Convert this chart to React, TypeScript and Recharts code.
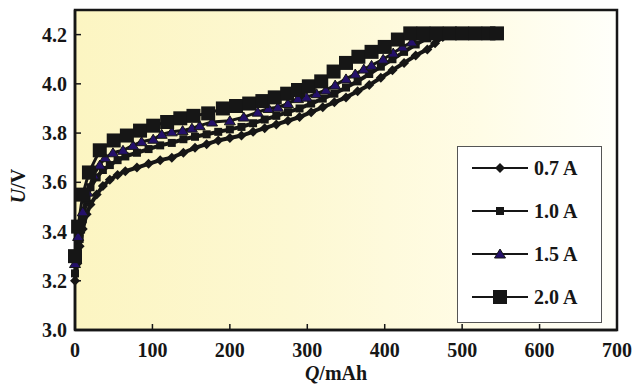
import React from 'react';
import { LineChart, Line, XAxis, YAxis, ReferenceArea } from 'recharts';

// charge curves, [Q (mAh), U (V)]
const curve07: [number, number][] = [
  [0, 3.2], [3, 3.27], [6, 3.34], [10, 3.41], [15, 3.47], [20, 3.51], [28, 3.55], [36, 3.585],
  [45, 3.61], [55, 3.63], [65, 3.645], [80, 3.66], [95, 3.675], [110, 3.69], [125, 3.7],
  [140, 3.72], [155, 3.74], [170, 3.755], [185, 3.77], [200, 3.78], [215, 3.79], [230, 3.805],
  [245, 3.82], [260, 3.835], [275, 3.85], [290, 3.865], [305, 3.885], [320, 3.905], [335, 3.925],
  [350, 3.945], [365, 3.97], [380, 3.995], [395, 4.025], [410, 4.055], [425, 4.085], [440, 4.115],
  [455, 4.14], [465, 4.165], [475, 4.19], [482, 4.2], [495, 4.2], [510, 4.2], [525, 4.2], [540, 4.2],
];

const curve10: [number, number][] = [
  [0, 3.23], [3, 3.3], [6, 3.37], [10, 3.45], [15, 3.53], [20, 3.58], [28, 3.62], [36, 3.65],
  [45, 3.67], [55, 3.69], [65, 3.705], [80, 3.72], [95, 3.735], [110, 3.75], [125, 3.76],
  [140, 3.775], [155, 3.785], [170, 3.795], [185, 3.805], [200, 3.815], [215, 3.825], [230, 3.84],
  [245, 3.855], [260, 3.87], [275, 3.885], [290, 3.9], [305, 3.92], [320, 3.94], [335, 3.96],
  [350, 3.985], [365, 4.01], [380, 4.04], [395, 4.07], [410, 4.1], [425, 4.13], [440, 4.16],
  [455, 4.185], [465, 4.2], [480, 4.2], [495, 4.2], [510, 4.2], [525, 4.2], [540, 4.2],
];

const curve15: [number, number][] = [
  [0, 3.27], [4, 3.38], [10, 3.48], [16, 3.56], [24, 3.63], [32, 3.67], [39, 3.7], [49, 3.72],
  [62, 3.73], [75, 3.75], [86, 3.765], [101, 3.775], [112, 3.795], [125, 3.805], [139, 3.81],
  [151, 3.82], [161, 3.83], [177, 3.845], [200, 3.85], [218, 3.865], [236, 3.885], [250, 3.9],
  [262, 3.905], [275, 3.92], [288, 3.94], [299, 3.946], [312, 3.96], [324, 3.975], [336, 3.995],
  [350, 4.02], [362, 4.04], [373, 4.06], [383, 4.075], [398, 4.1], [411, 4.125], [423, 4.15],
  [435, 4.17], [447, 4.2], [462, 4.2], [477, 4.2], [492, 4.2], [507, 4.2], [522, 4.2], [537, 4.2],
];

const curve20: [number, number][] = [
  [0, 3.3], [4, 3.42], [10, 3.55], [18, 3.64], [32, 3.73], [50, 3.77], [67, 3.79], [84, 3.81],
  [101, 3.83], [119, 3.845], [136, 3.86], [153, 3.87], [172, 3.88], [191, 3.9], [208, 3.91],
  [225, 3.92], [242, 3.93], [258, 3.945], [274, 3.96], [288, 3.975], [302, 3.99], [318, 4.01],
  [334, 4.05], [350, 4.085], [366, 4.11], [383, 4.13], [400, 4.15], [417, 4.18], [433, 4.205],
  [450, 4.205], [467, 4.205], [484, 4.205], [500, 4.205], [517, 4.205], [534, 4.205], [545, 4.205],
];

const xTicks = [0, 100, 200, 300, 400, 500, 600, 700];
const yTicks = [3.0, 3.2, 3.4, 3.6, 3.8, 4.0, 4.2];
const seriesNames = ['0.7 A', '1.0 A', '1.5 A', '2.0 A'];

const toRows = (c: [number, number][]) => c.map(([q, u]) => ({ q, u }));

const FONT = '"Liberation Serif", "Times New Roman", serif';
const INK = '#161616';

type Shape = 'diamond' | 'small' | 'triangle' | 'big';

const Marker = ({ cx, cy, shape }: { cx: number; cy: number; shape: Shape }) => {
  if (cx == null || cy == null) return null;
  if (shape === 'diamond') {
    return <polygon points={`${cx},${cy - 5} ${cx + 5},${cy} ${cx},${cy + 5} ${cx - 5},${cy}`} fill={INK} />;
  }
  if (shape === 'small') {
    return <rect x={cx - 4} y={cy - 4} width={8} height={8} fill={INK} />;
  }
  if (shape === 'triangle') {
    return (
      <polygon
        points={`${cx},${cy - 5} ${cx + 5.5},${cy + 4} ${cx - 5.5},${cy + 4}`}
        fill="#24106a"
        stroke={INK}
        strokeWidth={1}
      />
    );
  }
  return <rect x={cx - 7} y={cy - 7} width={14} height={14} fill={INK} />;
};

const makeDot = (shape: Shape) => (props: any) => (
  <Marker key={`${shape}-${props.index}`} cx={props.cx} cy={props.cy} shape={shape} />
);

const YTick = (props: any) => {
  const { x, y, payload } = props;
  return (
    <g>
      <line x1={x + 8} x2={x + 14} y1={y} y2={y} stroke={INK} strokeWidth={1.5} />
      <text x={x} y={y} dy={7} textAnchor="end" fontFamily={FONT} fontWeight="bold" fontSize={20} fill={INK}>
        {Number(payload.value).toFixed(1)}
      </text>
    </g>
  );
};

const XTick = (props: any) => {
  const { x, y, payload } = props;
  return (
    <g>
      <line x1={x} x2={x} y1={y - 8} y2={y - 14} stroke={INK} strokeWidth={1.5} />
      <text x={x} y={y} dy={19} textAnchor="middle" fontFamily={FONT} fontWeight="bold" fontSize={20} fill={INK}>
        {payload.value}
      </text>
    </g>
  );
};

const legendShapes: Shape[] = ['diamond', 'small', 'triangle', 'big'];
const lineWidths = [4, 4, 3, 3];

const LegendBox = () => (
  <div
    style={{
      position: 'absolute',
      left: 457,
      top: 146,
      width: 145,
      height: 177,
      background: '#fff',
      border: '1px solid #555',
      boxSizing: 'border-box',
    }}
  >
    <svg width={143} height={175} style={{ display: 'block' }}>
      {seriesNames.map((name, i) => {
        const y = 21 + i * 43;
        return (
          <g key={name}>
            <line x1={14} x2={70} y1={y} y2={y} stroke={INK} strokeWidth={2} />
            <Marker cx={42} cy={y} shape={legendShapes[i]} />
            <text x={76} y={y + 7} fontFamily={FONT} fontWeight="bold" fontSize={20} fill={INK}>
              {name}
            </text>
          </g>
        );
      })}
    </svg>
  </div>
);

const YLabel = () => (
  <text
    transform="translate(25,186) rotate(-90)"
    textAnchor="middle"
    fontFamily={FONT}
    fontWeight="bold"
    fontSize={20}
    fill={INK}
  >
    <tspan fontStyle="italic">U</tspan>
    <tspan>/V</tspan>
  </text>
);

const XLabel = () => (
  <text x={336} y={380} textAnchor="middle" fontFamily={FONT} fontWeight="bold" fontSize={20} fill={INK}>
    <tspan fontStyle="italic">Q</tspan>
    <tspan>/mAh</tspan>
  </text>
);

const App: React.FC = () => {
  const series = [curve07, curve10, curve15, curve20];
  return (
    <div style={{ position: 'absolute', left: 0, top: 0, width: 638, height: 384, background: '#fff' }}>
      <LineChart width={638} height={384} margin={{ top: 10, right: 21, left: 0, bottom: 0 }}>
        <defs>
          <linearGradient id="bgFade" x1="0" y1="0" x2="1" y2="0">
            <stop offset="0%" stopColor="#fcf5c2" />
            <stop offset="40%" stopColor="#fdf8d2" />
            <stop offset="75%" stopColor="#fffce6" />
            <stop offset="100%" stopColor="#fffffa" />
          </linearGradient>
        </defs>
        <ReferenceArea x1={0} x2={700} y1={3.0} y2={4.3} fill="url(#bgFade)" fillOpacity={1} stroke={INK} strokeWidth={2.5} />
        <XAxis
          type="number"
          dataKey="q"
          domain={[0, 700]}
          ticks={xTicks}
          height={54}
          tickSize={0}
          tickMargin={8}
          tick={<XTick />}
          axisLine={{ stroke: INK, strokeWidth: 2.5 }}
          tickLine={false}
          allowDuplicatedCategory={false}
        />
        <YAxis
          type="number"
          dataKey="u"
          domain={[3.0, 4.3]}
          ticks={yTicks}
          width={75}
          tickSize={0}
          tickMargin={8}
          tick={<YTick />}
          axisLine={{ stroke: INK, strokeWidth: 2.5 }}
          tickLine={false}
        />
        {series.map((c, i) => (
          <Line
            key={seriesNames[i]}
            data={toRows(c)}
            dataKey="u"
            name={seriesNames[i]}
            type="linear"
            stroke={INK}
            strokeWidth={lineWidths[i]}
            dot={makeDot(legendShapes[i])}
            activeDot={false}
            isAnimationActive={false}
          />
        ))}
        <YLabel />
        <XLabel />
      </LineChart>
      <LegendBox />
    </div>
  );
};

export default App;
